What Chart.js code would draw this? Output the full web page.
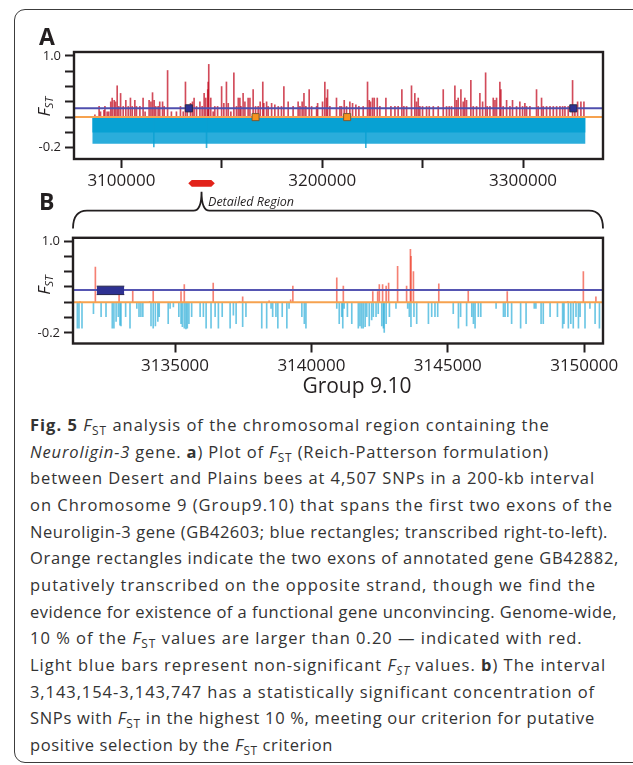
<!DOCTYPE html>
<html>
<head>
<meta charset="utf-8">
<script src="https://cdn.jsdelivr.net/npm/chart.js@4.4.1/dist/chart.umd.min.js"></script>
<style>
  html, body { margin: 0; padding: 0; background: #fff; }
  body { width: 633px; height: 765px; position: relative; overflow: hidden; font-family: 'Open Sans', sans-serif; color: #231f20; }
  #frame { position: absolute; left: 14px; top: 9px; width: 700px; height: 752px; border: 1.5px solid #3c3c3c; border-radius: 11px; }
  canvas { position: absolute; left: 0; }
  #chartA { top: 40px; }
  #chartB { top: 226px; }
  .panel-label { position: absolute; left: 39px; font-weight: 700; font-size: 23px; line-height: 23px; }
  #groupLabel { position: absolute; top: 374.7px; left: 357px; transform: translateX(-50%); font-size: 21px; line-height: 21px; white-space: nowrap; }
  #caption { position: absolute; left: 30px; top: 412px; font-size: 16.5px; line-height: 26.67px; color: #333; }
  #caption .ln { white-space: nowrap; width: max-content; }
  sub { font-size: 0.72em; line-height: 0; vertical-align: -0.3em; }
</style>
</head>
<body>
<div id="frame"></div>
<canvas id="chartA" width="633" height="192"></canvas>
<canvas id="chartB" width="633" height="150"></canvas>
<div class="panel-label" style="top:24.6px">A</div>
<div class="panel-label" style="top:189.6px">B</div>
<div id="groupLabel">Group 9.10</div>
<div id="caption">
  <div class="ln"><b>Fig. 5</b> <i>F</i><sub>ST</sub> analysis of the chromosomal region containing the</div>
  <div class="ln"><i>Neuroligin-3</i> gene. <b>a</b>) Plot of <i>F</i><sub>ST</sub> (Reich-Patterson formulation)</div>
  <div class="ln">between Desert and Plains bees at 4,507 SNPs in a 200-kb interval</div>
  <div class="ln">on Chromosome 9 (Group9.10) that spans the first two exons of the</div>
  <div class="ln">Neuroligin-3 gene (GB42603; blue rectangles; transcribed right-to-left).</div>
  <div class="ln">Orange rectangles indicate the two exons of annotated gene GB42882,</div>
  <div class="ln">putatively transcribed on the opposite strand, though we find the</div>
  <div class="ln">evidence for existence of a functional gene unconvincing. Genome-wide,</div>
  <div class="ln">10 % of the <i>F</i><sub>ST</sub> values are larger than 0.20 — indicated with red.</div>
  <div class="ln">Light blue bars represent non-significant <i>F<sub>ST</sub></i> values. <b>b</b>) The interval</div>
  <div class="ln">3,143,154-3,143,747 has a statistically significant concentration of</div>
  <div class="ln">SNPs with <i>F</i><sub>ST</sub> in the highest 10 %, meeting our criterion for putative</div>
  <div class="ln">positive selection by the <i>F</i><sub>ST</sub> criterion</div>
</div>
<script>
// significance threshold, bars start from here
const threshold = 0.2;

// y axis (both panels)
const yTicks = [-0.2, 0, 0.2, 0.4, 0.6, 0.8, 1.0];
const yTickLabels = ['-0.2', '', '', '', '', '', '1.0'];

// ---- panel A : whole 200-kb interval ----
const aTicks = [3100000, 3150000, 3200000, 3250000, 3300000];
const aTickLabels = ['3100000', '', '3200000', '', '3300000'];
const aRedPos = [
  3086800, 3088900, 3089600, 3091300, 3091800, 3092900, 3093700, 3094700, 3095400, 3096400,
  3097100, 3097900, 3098700, 3099600, 3100900, 3102200, 3103400, 3104500, 3105400, 3106700,
  3107500, 3109200, 3110800, 3111800, 3113800, 3114700, 3115500, 3116300, 3117100, 3118300,
  3119100, 3120500, 3121300, 3123000, 3124900, 3127400, 3129400, 3130800, 3131900, 3132800,
  3134400, 3135400, 3136200, 3137400, 3139100, 3140200, 3141200, 3142000, 3143000, 3143200,
  3143500, 3144500, 3145700, 3146500, 3147900, 3149900, 3151000, 3152300, 3153200, 3154500,
  3156000, 3157300, 3158200, 3159000, 3159500, 3160600, 3161500, 3163100, 3164000, 3165600,
  3166800, 3168100, 3169100, 3170400, 3170900, 3172300, 3173100, 3174800, 3176400, 3178100,
  3179700, 3180900, 3183050, 3185500, 3188000, 3188900, 3190000, 3190900, 3191850, 3193500,
  3194700, 3197200, 3197700, 3200150, 3201300, 3202150, 3202650, 3203800, 3207100, 3208800,
  3209600, 3210950, 3212100, 3213750, 3215100, 3216750, 3218250, 3220400, 3222550, 3223400,
  3224050, 3225050, 3225900, 3227400, 3228700, 3231700, 3234200, 3236200, 3237800, 3239650,
  3240650, 3242000, 3244450, 3246100, 3246950, 3247800, 3248600, 3249950, 3251950, 3253300,
  3255300, 3257750, 3260250, 3261900, 3263250, 3264400, 3266050, 3266900, 3267700, 3269050,
  3270200, 3271000, 3271850, 3274000, 3275200, 3276850, 3278500, 3279850, 3281350, 3282150,
  3283500, 3285150, 3286000, 3286800, 3288450, 3288950, 3290100, 3291800, 3293450, 3294750,
  3296750, 3298400, 3299750, 3300900, 3301750, 3303400, 3306700, 3307550, 3309200, 3310050,
  3311700, 3313400, 3315050, 3316700, 3318350, 3319700, 3320850, 3322500, 3324650, 3325800,
  3327150, 3328800, 3330300
];
const aRedFst = [
  0.23, 0.34, 0.27, 0.29, 0.34, 0.27, 0.27, 0.40, 0.45, 0.42,
  0.40, 0.61, 0.34, 0.51, 0.34, 0.42, 0.34, 0.45, 0.34, 0.42,
  0.34, 0.34, 0.45, 0.27, 0.42, 0.40, 0.52, 0.42, 0.34, 0.34,
  0.40, 0.40, 0.34, 0.81, 0.27, 0.27, 0.34, 0.27, 0.66, 0.34,
  0.38, 0.40, 0.45, 0.34, 0.40, 0.34, 0.51, 0.45, 0.56, 0.66,
  0.89, 0.45, 0.27, 0.34, 0.34, 0.60, 0.38, 0.66, 0.38, 0.27,
  0.78, 0.34, 0.45, 0.45, 0.34, 0.51, 0.40, 0.45, 0.45, 0.56,
  0.34, 0.34, 0.40, 0.66, 0.38, 0.40, 0.34, 0.38, 0.36, 0.34,
  0.34, 0.60, 0.40, 0.34, 0.40, 0.34, 0.40, 0.51, 0.34, 0.56,
  0.34, 0.34, 0.38, 0.40, 0.66, 0.45, 0.56, 0.34, 0.45, 0.34,
  0.34, 0.42, 0.34, 0.40, 0.38, 0.36, 0.34, 0.34, 0.66, 0.42,
  0.40, 0.45, 0.45, 0.45, 0.34, 0.45, 0.34, 0.34, 0.34, 0.56,
  0.34, 0.34, 0.61, 0.51, 0.40, 0.45, 0.34, 0.34, 0.34, 0.34,
  0.34, 0.34, 0.56, 0.34, 0.34, 0.34, 0.61, 0.42, 0.45, 0.56,
  0.40, 0.45, 0.42, 0.68, 0.34, 0.34, 0.51, 0.40, 0.78, 0.34,
  0.34, 0.45, 0.42, 0.45, 0.66, 0.56, 0.34, 0.42, 0.34, 0.42,
  0.34, 0.40, 0.34, 0.38, 0.34, 0.34, 0.56, 0.34, 0.45, 0.34,
  0.34, 0.34, 0.34, 0.34, 0.34, 0.34, 0.34, 0.34, 0.68, 0.34,
  0.40, 0.40, 0.40
];
// dense band of non-significant SNPs (start/end) and its depth
const aBandPos = [3085500, 3331100];
const aBandCore = [0.0, 0.0];
const aBandLow = [-0.15, -0.15];
// the few light blue bars reaching below the band
const aBluePos = [3116150, 3142400, 3221700];
const aBlueFst = [-0.19, -0.2, -0.2];
// gene tracks
const aNlgLevel = 0.315;
const aNlgExons = [3133600, 3325000];   // Neuroligin-3 (blue)
const aGbExons = [3166800, 3212400];    // GB42882 (orange)
const detailRegion = [3133300, 3146500];

// ---- panel B : detailed region ----
const bTicks = [3135000, 3140000, 3145000, 3150000];
const bTickLabels = ['3135000', '3140000', '3145000', '3150000'];
const bRedPos = [
  3131520, 3132080, 3132950, 3133450, 3134070, 3134200, 3135220, 3135340, 3136400, 3137360,
  3137480, 3138450, 3139240, 3139320, 3140930, 3141170, 3142250, 3142430, 3142490, 3142610,
  3142740, 3142830, 3143160, 3143490, 3143630, 3143650, 3143740, 3144670, 3145750, 3147180,
  3149400, 3149660, 3149970, 3150430
];
const bRedFst = [
  0.21, 0.66, 0.31, 0.37, 0.21, 0.37, 0.34, 0.43, 0.45, 0.21,
  0.27, 0.22, 0.23, 0.41, 0.52, 0.41, 0.34, 0.34, 0.43, 0.43,
  0.41, 0.45, 0.67, 0.41, 0.89, 0.80, 0.60, 0.44, 0.35, 0.34,
  0.21, 0.21, 0.60, 0.27
];
const bBluePos = [
  3131420, 3131480, 3131590, 3132010, 3132290, 3132470, 3132700, 3132760, 3132840, 3132920,
  3132980, 3133020, 3133190, 3133350, 3133600, 3133680, 3133750, 3133820, 3134120, 3134200,
  3134280, 3134370, 3134420, 3134750, 3134820, 3134940, 3135140, 3135220, 3135270, 3135340,
  3135400, 3135450, 3135510, 3135610, 3135920, 3136040, 3136140, 3136320, 3136470, 3136590,
  3136730, 3137020, 3137140, 3137240, 3137480, 3137600, 3138180, 3138360, 3138520, 3138580,
  3138700, 3138770, 3138930, 3139100, 3139180, 3139650, 3139740, 3139800, 3140930, 3141020,
  3141110, 3141150, 3141200, 3141320, 3141480, 3141720, 3141780, 3141840, 3141900, 3141970,
  3142030, 3142120, 3142210, 3142270, 3142370, 3142450, 3142580, 3142640, 3142670, 3142740,
  3142860, 3143100, 3143530, 3143590, 3143650, 3143760, 3143860, 3144290, 3144410, 3144530,
  3144630, 3145200, 3145390, 3145470, 3145690, 3145880, 3145940, 3146000, 3146120, 3146210,
  3146770, 3147040, 3147100, 3147200, 3147340, 3147670, 3147870, 3148170, 3148230, 3148420,
  3148500, 3148750, 3149020, 3149210, 3149260, 3149420, 3149510, 3149600, 3149700, 3149790,
  3149850, 3150030, 3150210, 3150400, 3150560
];
const bBlueFst = [
  -0.14, -0.14, -0.14, 0.05, 0.01, 0.01, -0.14, -0.14, -0.05, 0.01,
  -0.10, -0.11, 0.01, -0.14, 0.12, 0.01, 0.01, 0.01, -0.11, -0.14,
  -0.11, -0.05, 0.01, -0.08, 0.12, 0.14, 0.01, -0.08, -0.12, -0.14,
  -0.15, -0.14, -0.08, 0.01, 0.01, 0.01, -0.14, -0.14, 0.01, -0.14,
  0.01, -0.14, 0.03, -0.08, -0.12, 0.01, -0.14, -0.14, 0.12, 0.01,
  0.01, -0.14, 0.01, -0.14, 0.12, 0.01, -0.08, -0.14, 0.12, -0.08,
  0.01, -0.14, 0.12, 0.01, -0.08, -0.14, -0.11, -0.14, -0.14, -0.12,
  0.01, -0.11, -0.03, 0.01, 0.01, 0.05, -0.11, -0.14, -0.195, -0.08,
  0.01, 0.12, 0.12, 0.01, -0.12, 0.01, -0.08, -0.08, 0.01, 0.01,
  0.01, 0.05, -0.14, 0.01, -0.11, 0.01, -0.08, -0.14, 0.01, 0.01,
  0.12, 0.01, 0.01, 0.01, -0.08, -0.14, -0.08, 0.12, 0.12, -0.08,
  -0.08, 0.01, 0.01, -0.14, -0.08, -0.14, -0.08, -0.14, 0.01, -0.14,
  0.01, -0.14, 0.12, -0.08, -0.14
];
const bNlgLevel = 0.36;
const bNlgExon = [3132130, 3133140];
const bNlgExonFst = [0.30, 0.41];

// caption line right edges, used to fit letter spacing
const captionRight = [556, 549, 595, 613, 608, 619, 607, 617, 596, 612, 595, 595, 333];

const ink = '#231f20';
Chart.defaults.font.family = "'Open Sans', sans-serif";
Chart.defaults.color = ink;

function bars(pos, fst, color, order) {
  return {
    type: 'bar',
    data: pos.map((x, i) => ({ x: x, y: [threshold, fst[i]] })),
    backgroundColor: color,
    barThickness: 1,
    grouped: false,
    order: order
  };
}

function hline(x0, x1, y, color, width, order) {
  return {
    type: 'line',
    data: [{ x: x0, y: y }, { x: x1, y: y }],
    borderColor: color,
    borderWidth: width,
    pointRadius: 0,
    fill: false,
    order: order
  };
}

function band(pos, vals, color, order) {
  return {
    type: 'line',
    data: pos.map((x, i) => ({ x: x, y: vals[i] })),
    borderColor: 'transparent',
    borderWidth: 0,
    pointRadius: 0,
    fill: { value: threshold },
    backgroundColor: color,
    order: order
  };
}

function exons(pos, y, fill, edge) {
  return {
    type: 'line',
    showLine: false,
    data: pos.map(x => ({ x: x, y: y })),
    pointStyle: 'rect',
    pointRadius: 5,
    backgroundColor: fill,
    borderColor: edge,
    borderWidth: 1,
    order: 0
  };
}

function tickGrid() {
  return { display: true, drawOnChartArea: false, drawTicks: true, tickLength: 9, tickWidth: 2, tickColor: ink, offset: false };
}

function scales(xMin, xMax, xTicks, xLabels, yMin, yMax, yWidth, xHeight) {
  return {
    x: {
      type: 'linear', min: xMin, max: xMax, offset: false,
      afterBuildTicks: s => { s.ticks = xTicks.map(v => ({ value: v })); },
      afterFit: s => { s.height = xHeight; },
      grid: tickGrid(),
      border: { display: false },
      ticks: { autoSkip: false, maxRotation: 0, padding: 3, font: { size: 17 }, color: ink,
               callback: (v, i) => xLabels[i] }
    },
    y: {
      type: 'linear', min: yMin, max: yMax,
      afterBuildTicks: s => { s.ticks = yTicks.map(v => ({ value: v })); },
      afterFit: s => { s.width = yWidth; },
      grid: tickGrid(),
      border: { display: false },
      ticks: { autoSkip: false, padding: 4, font: { size: 13 }, color: ink,
               callback: (v, i) => yTickLabels[i] }
    }
  };
}

// box round the plot area
const plotBox = {
  id: 'plotBox',
  afterDatasetsDraw(chart) {
    const a = chart.chartArea, c = chart.ctx;
    c.save();
    c.lineWidth = 2.4;
    c.strokeStyle = ink;
    c.strokeRect(a.left, a.top, a.right - a.left, a.bottom - a.top);
    c.restore();
  }
};

// rotated F_ST axis title
function fstTitle(cx, cy) {
  return {
    id: 'fstTitle',
    afterDraw(chart) {
      const c = chart.ctx;
      c.save();
      c.translate(cx, cy);
      c.rotate(-Math.PI / 2);
      c.fillStyle = ink;
      c.font = "italic 17px 'Open Sans'";
      const wF = c.measureText('F').width;
      c.font = "italic 11.5px 'Open Sans'";
      const wS = c.measureText('ST').width;
      const x0 = -(wF + wS) / 2;
      c.font = "italic 17px 'Open Sans'";
      c.fillText('F', x0, 6);
      c.font = "italic 11.5px 'Open Sans'";
      c.fillText('ST', x0 + wF, 8.5);
      c.restore();
    }
  };
}

// red marker of the detailed region, brace and its label
const detailMark = {
  id: 'detailMark',
  afterDraw(chart) {
    const c = chart.ctx, xs = chart.scales.x, a = chart.chartArea;
    const x1 = xs.getPixelForValue(detailRegion[0]);
    const x2 = xs.getPixelForValue(detailRegion[1]);
    const mid = (x1 + x2) / 2;
    c.save();
    c.fillStyle = '#e2231a';
    c.beginPath();
    c.moveTo(x1, 143.3);
    c.lineTo(x1 + 3.5, 140);
    c.lineTo(x2 - 3.5, 140);
    c.lineTo(x2, 143.3);
    c.lineTo(x2 - 3.5, 146.7);
    c.lineTo(x1 + 3.5, 146.7);
    c.closePath();
    c.fill();

    const left = a.left - 1, right = a.right, yH = 170.7, yEnd = 188.5, yTip = 151.7;
    c.strokeStyle = ink;
    c.lineWidth = 1.8;
    c.beginPath();
    c.moveTo(left, yEnd);
    c.quadraticCurveTo(left, yH, left + 14, yH);
    c.lineTo(mid - 8, yH);
    c.quadraticCurveTo(mid, yH, mid, yTip);
    c.quadraticCurveTo(mid, yH, mid + 8, yH);
    c.lineTo(right - 14, yH);
    c.quadraticCurveTo(right, yH, right, yEnd);
    c.stroke();

    c.fillStyle = ink;
    c.font = "italic 12.5px 'Open Sans'";
    c.textBaseline = 'alphabetic';
    c.fillText('Detailed Region', mid + 6.5, 165.7);
    c.restore();
  }
};

const xMinA = 3076400, xMaxA = 3339800;
new Chart(document.getElementById('chartA'), {
  type: 'bar',
  data: {
    datasets: [
      exons(aNlgExons, aNlgLevel, '#2e3192', '#2a2a4a'),
      exons(aGbExons, threshold, '#f7931e', '#7a5a35'),
      hline(xMinA, xMaxA, aNlgLevel, '#4f4fae', 2, 1),
      hline(xMinA, xMaxA, threshold, '#f6a24f', 2, 2),
      bars(aRedPos, aRedFst, 'rgba(195,15,35,0.75)', 3),
      bars(aBluePos, aBlueFst, 'rgba(10,160,210,0.8)', 4),
      band(aBandPos, aBandCore, '#07a1d3', 5),
      band(aBandPos, aBandLow, '#2aaddb', 6)
    ]
  },
  options: {
    responsive: false,
    animation: false,
    devicePixelRatio: 1,
    layout: { padding: { top: 12, right: 30, left: 0, bottom: 0 } },
    plugins: { legend: { display: false }, tooltip: { enabled: false } },
    scales: scales(xMinA, xMaxA, aTicks, aTickLabels, -0.348, 1.052, 74, 73)
  },
  plugins: [plotBox, fstTitle(44, 66.7), detailMark]
});

const xMinB = 3131260, xMaxB = 3150690;
new Chart(document.getElementById('chartB'), {
  type: 'bar',
  data: {
    datasets: [
      {
        type: 'line', data: bNlgExon.map(x => ({ x: x, y: bNlgExonFst[1] })),
        borderColor: '#23234a', borderWidth: 1, pointRadius: 0, fill: false, order: 0
      },
      {
        type: 'line', data: bNlgExon.map(x => ({ x: x, y: bNlgExonFst[0] })),
        borderColor: '#23234a', borderWidth: 1, pointRadius: 0, fill: '-1',
        backgroundColor: '#2e3192', order: 0
      },
      hline(xMinB, xMaxB, bNlgLevel, '#5555b2', 2, 1),
      hline(xMinB, xMaxB, threshold, '#f6a24f', 2, 2),
      bars(bRedPos, bRedFst, 'rgba(240,60,40,0.65)', 3),
      bars(bBluePos, bBlueFst, 'rgba(10,160,210,0.6)', 4)
    ]
  },
  options: {
    responsive: false,
    animation: false,
    devicePixelRatio: 1,
    layout: { padding: { top: 10, right: 30, left: 0, bottom: 0 } },
    plugins: { legend: { display: false }, tooltip: { enabled: false } },
    scales: scales(xMinB, xMaxB, bTicks, bTickLabels, -0.339, 1.042, 73, 32.5)
  },
  plugins: [plotBox, fstTitle(44, 59)]
});

// fit each caption line to its width in the figure
document.querySelectorAll('#caption .ln').forEach((line, i) => {
  const w = line.getBoundingClientRect().width;
  const n = line.textContent.length;
  let ls = (captionRight[i] - 30 - w) / n;
  ls = Math.max(-1, Math.min(1, ls));
  line.style.letterSpacing = ls + 'px';
});
</script>
</body>
</html>
